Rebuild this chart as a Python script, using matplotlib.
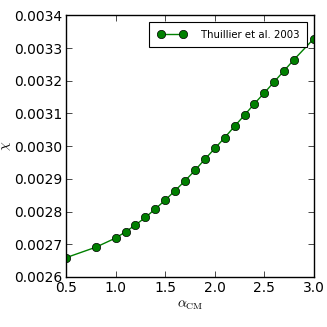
import matplotlib
matplotlib.use("Agg")
import matplotlib.pyplot as plt
from matplotlib.legend_handler import HandlerLine2D

alpha_cm = [0.5, 0.8, 1.0, 1.1, 1.2, 1.3, 1.4, 1.5, 1.6, 1.7, 1.8, 1.9,
            2.0, 2.1, 2.2, 2.3, 2.4, 2.5, 2.6, 2.7, 2.8, 3.0]
chi = [0.002659, 0.002691, 0.002719, 0.002738, 0.002759, 0.002782, 0.002808,
       0.002835, 0.002864, 0.002894, 0.002926, 0.002960, 0.002993, 0.003026,
       0.003061, 0.003095, 0.003130, 0.003163, 0.003197, 0.003231, 0.003265,
       0.003329]
series_label = "Thuillier et al. 2003"
xticks = [0.5, 1.0, 1.5, 2.0, 2.5, 3.0]
yticks = [0.0026, 0.0027, 0.0028, 0.0029, 0.0030, 0.0031, 0.0032, 0.0033, 0.0034]

plt.rcParams['font.family'] = ['DejaVu Sans']
plt.rcParams['mathtext.fontset'] = 'cm'

fig = plt.figure(figsize=(3.27, 3.27), dpi=100, facecolor='white')
ax = fig.add_axes([0.202, 0.153, 0.758, 0.800])
line, = ax.plot(alpha_cm, chi, color=(0, 0.5, 0), marker='o', markersize=6,
                markerfacecolor=(0, 0.5, 0), markeredgecolor='black', markeredgewidth=0.5,
                linewidth=1.0, label=series_label)
ax.set_xlim(0.5, 3.0)
ax.set_ylim(0.0026, 0.0034)
ax.set_xticks(xticks)
ax.set_yticks(yticks)
ax.set_xticklabels([f"{v:.1f}" for v in xticks])
ax.set_yticklabels([f"{v:.4f}" for v in yticks])
ax.tick_params(direction='in', top=True, right=True, labelsize=10, length=4, width=0.5, pad=3)
for s in ax.spines.values():
    s.set_linewidth(1.0)
ax.set_xlabel(r"$\alpha_{\rm CM}$", fontsize=10, labelpad=2)
ax.set_ylabel(r"$\chi$", fontsize=10, labelpad=0.5)
leg = ax.legend(loc='upper right', fontsize=7.3, fancybox=False, framealpha=1,
                edgecolor='black', numpoints=2, handlelength=3.22,
                handletextpad=1.24, borderpad=0.72, borderaxespad=0.7,
                handler_map={line: HandlerLine2D(marker_pad=0.55, numpoints=2)})
leg.get_frame().set_linewidth(0.8)
fig.savefig("out.png", dpi=100, facecolor='white')
